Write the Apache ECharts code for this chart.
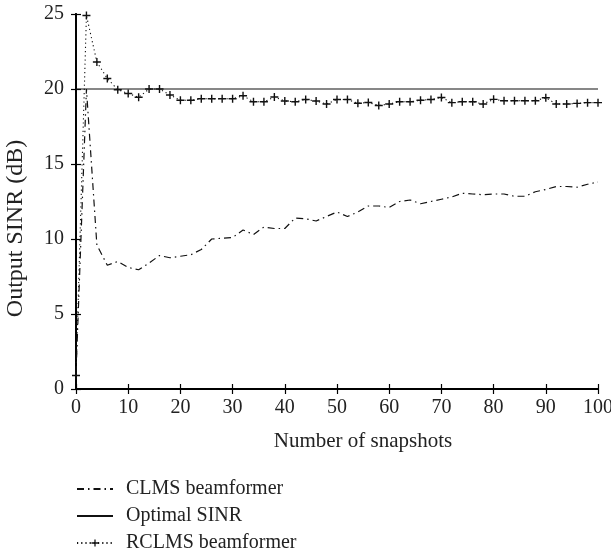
<!DOCTYPE html>
<html>
<head>
<meta charset="utf-8">
<script src="https://cdn.jsdelivr.net/npm/echarts@6/dist/echarts.min.js"></script>
<style>html,body{margin:0;padding:0;background:#fff;}#chart{width:611px;height:559px;}</style>
</head>
<body>
<div id="chart"></div>
<script>
const snapshots = [0,2,4,6,8,10,12,14,16,18,20,22,24,26,28,30,32,34,36,38,40,42,44,46,48,50,52,54,56,58,60,62,64,66,68,70,72,74,76,78,80,82,84,86,88,90,92,94,96,98,100];
const clmsValues = [1.0,20.0,9.6,8.25,8.5,8.1,7.95,8.4,8.9,8.75,8.85,8.95,9.3,10.0,10.05,10.1,10.6,10.3,10.8,10.7,10.7,11.4,11.35,11.2,11.5,11.8,11.5,11.8,12.2,12.2,12.1,12.5,12.6,12.35,12.5,12.65,12.8,13.05,13.0,12.95,13.0,13.0,12.85,12.85,13.15,13.3,13.5,13.5,13.45,13.65,13.8];
const rclmsValues = [0.9,24.9,21.8,20.7,19.95,19.7,19.45,20.0,20.0,19.6,19.25,19.25,19.35,19.35,19.35,19.35,19.55,19.15,19.15,19.47,19.2,19.15,19.3,19.2,19.0,19.3,19.3,19.05,19.1,18.9,19.0,19.15,19.15,19.25,19.3,19.43,19.09,19.15,19.15,19.0,19.31,19.22,19.22,19.22,19.22,19.42,19.0,19.0,19.04,19.09,19.09];
const optimalSinr = 20;
const seriesNames = ['CLMS beamformer', 'Optimal SINR', 'RCLMS beamformer'];
const xAxisTitle = 'Number of snapshots';
const yAxisTitle = 'Output SINR (dB)';

const FONT = 'Liberation Serif';
const plusPath = 'path://M0,3.3H8V4.7H0Z M3.3,0H4.7V8H3.3Z';

const chart = echarts.init(document.getElementById('chart'), null, {renderer: 'canvas'});

const axisLine = {show: true, lineStyle: {color: '#000', width: 1.8}};
const tickIn = {show: true, inside: true, length: 5, lineStyle: {color: '#000', width: 1.2}};

chart.setOption({
  animation: false,
  backgroundColor: '#fff',
  grid: {left: 76, right: 13, top: 14, bottom: 170, containLabel: false, outerBoundsMode: 'none'},
  legend: {
    orient: 'vertical',
    left: 76,
    top: 479,
    padding: 0,
    itemWidth: 36,
    itemHeight: 9,
    itemGap: 7,
    data: [
      {name: seriesNames[0], itemStyle: {opacity: 0}},
      {name: seriesNames[1], itemStyle: {opacity: 0}},
      {name: seriesNames[2]}
    ],
    textStyle: {fontFamily: FONT, fontSize: 20, color: '#222', padding: [0, 0, 0, 8]}
  },
  xAxis: [{
    type: 'value', min: 0, max: 100, interval: 10, position: 'bottom',
    name: xAxisTitle, nameLocation: 'middle', nameGap: 42,
    nameTextStyle: {fontFamily: FONT, fontSize: 21, color: '#222', padding: [0, 0, 0, 52]},
    axisLine: axisLine, axisTick: tickIn,
    axisLabel: {fontFamily: FONT, fontSize: 20, color: '#222', margin: 9},
    splitLine: {show: false}
  }, {
    type: 'value', min: 0, max: 100, interval: 10, position: 'top',
    axisLine: axisLine, axisTick: tickIn, axisLabel: {show: false}, splitLine: {show: false}
  }],
  yAxis: [{
    type: 'value', min: 0, max: 25, interval: 5, position: 'left',
    name: yAxisTitle, nameLocation: 'middle', nameGap: 48,
    nameTextStyle: {fontFamily: FONT, fontSize: 24, color: '#222', padding: [0, 54, 0, 0]},
    axisLine: axisLine, axisTick: tickIn,
    axisLabel: {fontFamily: FONT, fontSize: 20, color: '#222', margin: 12},
    splitLine: {show: false}
  }, {
    type: 'value', min: 0, max: 25, interval: 5, position: 'right',
    axisLine: axisLine, axisTick: tickIn, axisLabel: {show: false}, splitLine: {show: false}
  }],
  series: [{
    name: seriesNames[0], type: 'line',
    data: snapshots.map((s, i) => [s, clmsValues[i]]),
    symbol: 'none', showSymbol: false,
    lineStyle: {color: '#111', width: 1.2, type: [7, 4, 1.5, 4]},
    itemStyle: {color: '#111'}
  }, {
    name: seriesNames[1], type: 'line',
    data: [[snapshots[0], optimalSinr], [snapshots[snapshots.length - 1], optimalSinr]],
    symbol: 'none', showSymbol: false,
    lineStyle: {color: '#111', width: 1.2, type: 'solid'},
    itemStyle: {color: '#111'}
  }, {
    name: seriesNames[2], type: 'line',
    data: snapshots.map((s, i) => [s, rclmsValues[i]]),
    symbol: plusPath, symbolSize: 8, showSymbol: true,
    lineStyle: {color: '#111', width: 1.1, type: [1.2, 3]},
    itemStyle: {color: '#111', borderWidth: 0}
  }]
});
</script>
</body>
</html>
